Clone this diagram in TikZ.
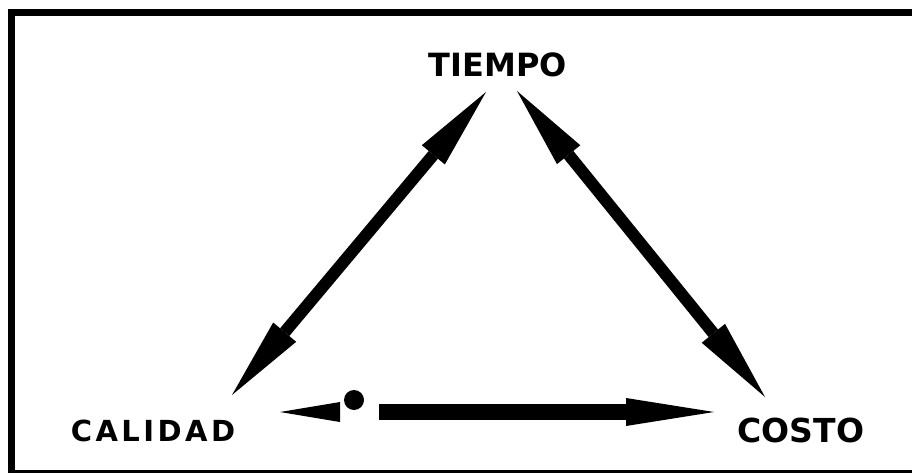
\documentclass[tikz,border=0pt]{standalone}
\usepackage{fontspec}
\setmainfont{DejaVu Sans}
\newfontfamily\spacedfont{DejaVu Sans}[LetterSpace=12]
\usepackage{tikz}
\usetikzlibrary{arrows.meta}

\begin{document}
\begin{tikzpicture}[x=1pt,y=-1pt]
\useasboundingbox (0,0) rectangle (912,473);
% frame
\draw[line width=7pt] (7.5,13) -- (912,13);
\draw[line width=7pt] (11,9.5) -- (11,473);
\draw[line width=3pt] (9.5,471.5) -- (912,471.5);
\begin{scope}[every node/.style={inner sep=0pt,outer sep=0pt,anchor=base}]
    \node[font=\bfseries\fontsize{32}{32}\selectfont] (tiempo) at (498,77) {TIEMPO};
    \node[font=\spacedfont\bfseries\fontsize{29}{29}\selectfont] (calidad) at (153,441) {CALIDAD};
    \node[font=\bfseries\fontsize{33}{33}\selectfont] (costo) at (801,442) {COSTO};
\end{scope}
\coordinate (ct) at (486,92);
\coordinate (cb) at (232,395);
\coordinate (tt) at (517,91);
\coordinate (tb) at (765,397);
\coordinate (hl) at (280,412);
\coordinate (dot) at (354,400);
\coordinate (sl) at (379,412);
\coordinate (sr) at (714,412);
\begin{scope}[side_edge/.style={draw,line width=12pt,
                  {Triangle[length=82pt,width=30pt,line width=0pt]}-{Triangle[length=82pt,width=30pt,line width=0pt]}},
              base_edge/.style={draw,line width=16pt,
                  -{Triangle[length=88pt,width=28pt,line width=0pt]}}]
    \path (cb) edge [side_edge] (ct);
    \path (tt) edge [side_edge] (tb);
    \path (sl) edge [base_edge] (sr);
    \fill (hl) -- ++(60,-10) -- ++(0,20) -- cycle;
    \fill (dot) circle (10pt);
\end{scope}
\end{tikzpicture}
\end{document}
